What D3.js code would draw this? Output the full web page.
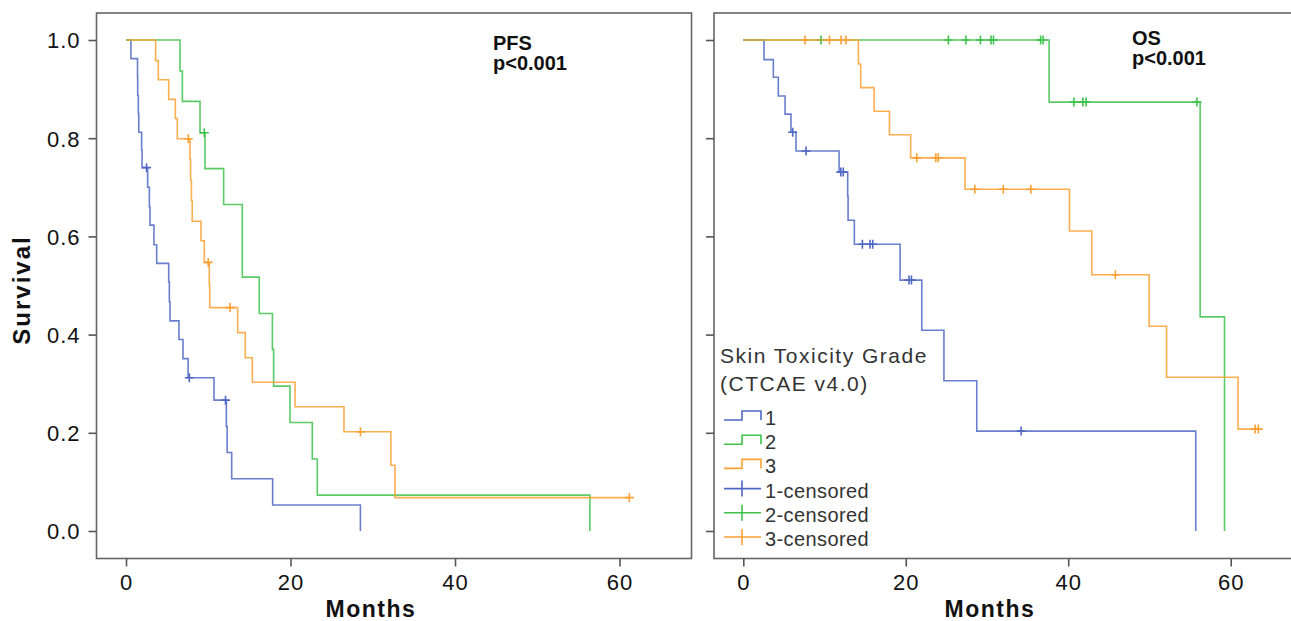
<!DOCTYPE html>
<html>
<head>
<meta charset="utf-8">
<script src="https://cdn.jsdelivr.net/npm/d3@7/dist/d3.min.js"></script>
<style>
  body { margin: 0; background: #fff; }
  svg text { font-family: "Liberation Sans", Arial, sans-serif; }
</style>
</head>
<body>
<svg width="1291" height="621"></svg>
<script>
// Tick values
const monthTicks = [0, 20, 40, 60];
const survTicks = [0, 0.2, 0.4, 0.6, 0.8, 1.0];

// Legend
const groupNames = ["1", "2", "3"];
const groupColors = ["#4f67c4", "#3ec24b", "#ffa033"];
const legendTitle = ["Skin Toxicity Grade", "(CTCAE v4.0)"];

// PFS - grade 1
const pfsTime1 = [0.6, 1.40, 1.42, 1.5, 1.55, 1.9, 1.95, 2.63, 2.84, 2.92, 3.4, 3.73, 5.19, 5.27, 5.35, 6.44, 6.93, 7.55, 10.7, 12.2, 12.3, 12.85, 17.83, 28.5];
const pfsSurv1 = [0.962, 0.925, 0.887, 0.850, 0.812, 0.776, 0.740, 0.700, 0.660, 0.623, 0.583, 0.545, 0.507, 0.467, 0.428, 0.390, 0.351, 0.312, 0.2665, 0.213, 0.160, 0.1065, 0.053, 0];
const pfsCens1 = [2.5, 7.7, 12.1];
// PFS - grade 2
const pfsTime2 = [6.57, 6.85, 9.0, 9.6, 11.87, 14.14, 14.14, 16.2, 17.8, 17.95, 19.94, 22.65, 23.26, 56.4];
const pfsSurv2 = [0.937, 0.875, 0.811, 0.738, 0.665, 0.591, 0.517, 0.443, 0.370, 0.295, 0.221, 0.1465, 0.073, 0];
const pfsCens2 = [9.52];
// PFS - grade 3
const pfsTime3 = [3.6, 3.93, 5.19, 6.0, 6.24, 7.78, 7.85, 7.95, 8.05, 9.12, 9.52, 10.13, 10.18, 13.58, 14.5, 15.36, 20.55, 26.5, 32.2, 32.7];
const pfsSurv3 = [0.958, 0.919, 0.879, 0.840, 0.799, 0.757, 0.715, 0.673, 0.631, 0.591, 0.547, 0.501, 0.455, 0.404, 0.353, 0.303, 0.253, 0.202, 0.134, 0.068];
const pfsCens3 = [7.58, 10.0, 12.65, 28.5, 61.2];

// OS - grade 1
const osTime1 = [2.55, 3.7, 4.31, 5.14, 5.87, 6.49, 11.79, 12.85, 12.9, 13.67, 19.3, 21.97, 24.7, 28.74, 55.7];
const osSurv1 = [0.960, 0.924, 0.886, 0.849, 0.812, 0.774, 0.731, 0.682, 0.633, 0.584, 0.511, 0.409, 0.306, 0.2035, 0];
const osCens1 = [6.08, 7.72, 12.0, 12.3, 14.66, 15.6, 15.93, 20.4, 20.7, 34.2];
// OS - grade 2
const osTime2 = [37.65, 56.24, 59.24];
const osSurv2 = [0.8735, 0.436, 0];
const osCens2 = [9.57, 25.25, 27.4, 29.2, 30.5, 30.8, 36.6, 36.9, 40.7, 41.8, 42.2, 55.84];
// OS - grade 3
const osTime3 = [14.17, 14.45, 16.1, 17.99, 20.6, 27.3, 40.15, 42.9, 49.96, 52.1, 60.9];
const osSurv3 = [0.951, 0.903, 0.855, 0.807, 0.760, 0.696, 0.611, 0.522, 0.417, 0.313, 0.2075];
const osCens3 = [7.6, 10.6, 12.03, 12.65, 21.35, 23.7, 24.0, 28.5, 32.0, 35.4, 45.8, 63.0, 63.4];

const svg = d3.select('svg');
const frameColor = '#666';
const frameTop = 13, frameBottom = 558.5;

const y = d3.scaleLinear().domain([0, 1]).range([531, 40]);

// survival value at time t from step data
function survAt(times, survs, t) {
    let s = 1;
    times.forEach((tt, i) => { if (tt <= t) s = survs[i]; });
    return s;
}

function drawPanel(opts) {
    const x = d3.scaleLinear().domain([0, 60]).range(opts.xRange);
    const g = svg.append('g');

    // frame
    g.append('rect')
        .attr('x', opts.left).attr('y', frameTop)
        .attr('width', opts.right - opts.left)
        .attr('height', frameBottom - frameTop)
        .attr('fill', 'none')
        .attr('stroke', frameColor)
        .attr('stroke-width', 1.6);

    // y axis
    const yAxis = d3.axisLeft(y).tickValues(survTicks).tickSize(8).tickPadding(8)
        .tickFormat(opts.yLabels ? d3.format('.1f') : '');
    const ya = g.append('g').attr('transform', `translate(${opts.left},0)`).call(yAxis);
    ya.select('.domain').remove();

    // x axis
    const xAxis = d3.axisBottom(x).tickValues(monthTicks).tickSize(8).tickPadding(8);
    const xa = g.append('g').attr('transform', `translate(0,${frameBottom})`).call(xAxis);
    xa.select('.domain').remove();

    [ya, xa].forEach(a => {
        a.selectAll('.tick line').attr('stroke', '#555').attr('stroke-width', 1.6);
        a.selectAll('.tick text')
            .attr('fill', '#111')
            .style('font-size', '22px')
            .style('letter-spacing', '1px');
    });
    ya.selectAll('.tick text').attr('dy', '0.36em');

    // curves
    const line = d3.line()
        .x(d => x(d[0]))
        .y(d => y(d[1]))
        .curve(d3.curveStepAfter);

    opts.series.forEach((s, i) => {
        const pts = [[0, 1]];
        s.time.forEach((t, k) => pts.push([t, s.surv[k]]));
        const lastCens = d3.max(s.cens);
        const lastT = s.time[s.time.length - 1];
        if (lastCens > lastT) pts.push([lastCens, s.surv[s.surv.length - 1]]);

        g.append('path')
            .attr('d', line(pts))
            .attr('fill', 'none')
            .attr('stroke', groupColors[i])
            .attr('stroke-width', 1.6)
            .attr('stroke-opacity', 0.85);

        g.selectAll(null)
            .data(s.cens)
            .enter()
            .append('path')
            .attr('transform', d => `translate(${x(d)},${y(survAt(s.time, s.surv, d))})`)
            .attr('d', 'M-4.5,0H4.5M0,-4.5V4.5')
            .attr('stroke', groupColors[i])
            .attr('stroke-width', 1.6);
    });

    // annotation
    const ann = g.append('text')
        .attr('x', opts.annX)
        .attr('fill', '#111')
        .style('font-size', '20px')
        .style('font-weight', 'bold');
    ann.append('tspan').attr('x', opts.annX).attr('y', opts.annY).text(opts.title);
    ann.append('tspan').attr('x', opts.annX).attr('y', opts.annY + 20).text('p<0.001');

    // x title
    g.append('text')
        .attr('x', opts.monthsX).attr('y', 617)
        .attr('text-anchor', 'middle')
        .attr('fill', '#111')
        .style('font-size', '23px')
        .style('font-weight', 'bold')
        .style('letter-spacing', '1.5px')
        .text('Months');

    return g;
}

drawPanel({
    left: 96.5, right: 691.5, xRange: [126, 619.5], yLabels: true,
    title: 'PFS', annX: 493, annY: 50, monthsX: 371,
    series: [
        { time: pfsTime1, surv: pfsSurv1, cens: pfsCens1 },
        { time: pfsTime2, surv: pfsSurv2, cens: pfsCens2 },
        { time: pfsTime3, surv: pfsSurv3, cens: pfsCens3 }
    ]
});

drawPanel({
    left: 714, right: 1300, xRange: [743.3, 1230.7], yLabels: false,
    title: 'OS', annX: 1132, annY: 45, monthsX: 990,
    series: [
        { time: osTime1, surv: osSurv1, cens: osCens1 },
        { time: osTime2, surv: osSurv2, cens: osCens2 },
        { time: osTime3, surv: osSurv3, cens: osCens3 }
    ]
});

// y title
svg.append('text')
    .attr('transform', 'translate(30,290) rotate(-90)')
    .attr('text-anchor', 'middle')
    .attr('fill', '#111')
    .style('font-size', '24px')
    .style('font-weight', 'bold')
    .style('letter-spacing', '2px')
    .text('Survival');

// legend
const legend = svg.append('g');
legend.selectAll('text.title')
    .data(legendTitle)
    .enter()
    .append('text')
    .attr('class', 'title')
    .attr('x', 720)
    .attr('y', (d, i) => 363 + i * 28)
    .attr('fill', '#333')
    .style('font-size', '21px')
    .style('letter-spacing', '1.5px')
    .text(d => d);

const legendRows = groupNames.map((n, i) => ({ label: n, color: groupColors[i], censored: false }))
    .concat(groupNames.map((n, i) => ({ label: n + '-censored', color: groupColors[i], censored: true })));

const row = legend.selectAll('g.row')
    .data(legendRows)
    .enter()
    .append('g')
    .attr('class', 'row')
    .attr('transform', (d, i) => `translate(0,${425 + i * 24.2})`);

row.append('path')
    .attr('d', d => d.censored ? 'M724,-9H761M742,-17V-1' : 'M724,-5H742V-14H761V-5')
    .attr('fill', 'none')
    .attr('stroke', d => d.color)
    .attr('stroke-width', 1.6);

row.append('text')
    .attr('x', 765)
    .attr('y', 0)
    .attr('fill', '#333')
    .style('font-size', '20px')
    .style('letter-spacing', '0.4px')
    .text(d => d.label);
</script>
</body>
</html>
